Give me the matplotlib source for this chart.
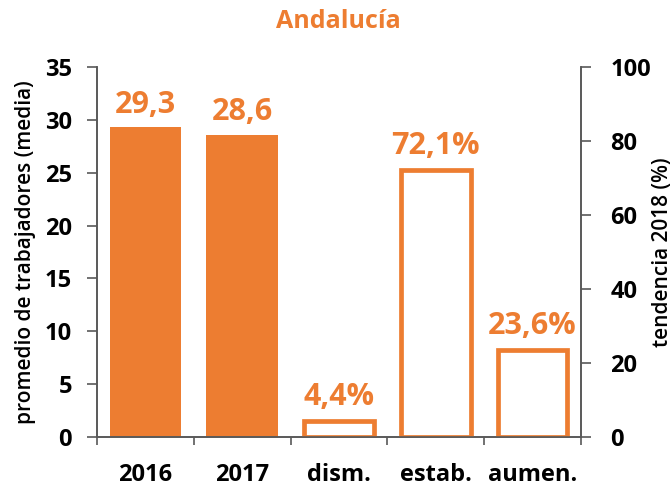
import matplotlib
matplotlib.use("Agg")
import matplotlib.pyplot as plt
import numpy as np

plt.rcParams['font.family'] = ['Open Sans', 'DejaVu Sans']

categories = ["2016", "2017", "dism.", "estab.", "aumen."]
avg_years = [29.3, 28.6]          # left axis (media)
avg_labels = ["29,3", "28,6"]
trend_vals = [4.4, 72.1, 23.6]     # right axis (%)
trend_labels = ["4,4%", "72,1%", "23,6%"]
title = "Andalucía"

orange = "#ED7D31"
axis_col = "#595959"

fig = plt.figure(figsize=(6.72, 4.86), dpi=100)
ax = fig.add_axes([97/672, 1-437/486, (581-97)/672, (437-67)/486])
ax2 = ax.twinx()

x = np.arange(len(categories))
w = 0.74

bars1 = ax.bar(x[:2], avg_years, width=w, color=orange, zorder=2)
bars2 = ax2.bar(x[2:], trend_vals, width=0.72, facecolor="white", edgecolor=orange,
                linewidth=3.4, zorder=2)

for b, lab in zip(bars1, avg_labels):
    ax.annotate(lab, (b.get_x() + b.get_width()/2, b.get_height()), xytext=(0, 5.5),
                textcoords="offset points", ha="center", va="bottom",
                color=orange, fontsize=22, fontweight="bold")
for b, lab in zip(bars2, trend_labels):
    ax2.annotate(lab, (b.get_x() + b.get_width()/2, b.get_height()), xytext=(0, 6.5),
                 textcoords="offset points", ha="center", va="bottom",
                 color=orange, fontsize=22, fontweight="bold")

ax.set_xlim(-0.5, len(categories) - 0.5)
ax.set_ylim(0, 35)
ax2.set_ylim(0, 100)
ax.set_yticks(np.arange(0, 36, 5))
ax2.set_yticks(np.arange(0, 101, 20))

ax.set_xticks(x)
ax.set_xticklabels(categories, fontsize=17, fontweight="bold")
ax.set_xticks(np.arange(-0.5, len(categories), 1), minor=True)
ax.tick_params(axis="x", which="major", length=0, pad=19)
ax.tick_params(axis="x", which="minor", length=6, width=1.2, color=axis_col, direction="out")

ax.tick_params(axis="y", length=7, width=1.2, color=axis_col, pad=11, labelsize=17)
ax2.tick_params(axis="y", length=7, width=1.2, color=axis_col, pad=14, labelsize=17)
for t in ax.get_yticklabels() + ax2.get_yticklabels():
    t.set_fontweight("bold")

for a in (ax, ax2):
    a.spines["top"].set_visible(False)
    for s in ("left", "right", "bottom"):
        a.spines[s].set_color(axis_col)
        a.spines[s].set_linewidth(1.2)

ax.set_ylabel("promedio de trabajadores (media)", fontsize=15, fontweight="semibold")
ax.yaxis.set_label_coords(-0.127, 0.5)
ax2.set_ylabel("tendencia 2018 (%)", fontsize=15, fontweight="semibold")
ax2.yaxis.set_label_coords(1.146, 0.5)

fig.text(338/672, 1-22/486, title, ha="center", va="center", color=orange,
         fontsize=18, fontweight="bold")

fig.savefig("out.png", dpi=100)
